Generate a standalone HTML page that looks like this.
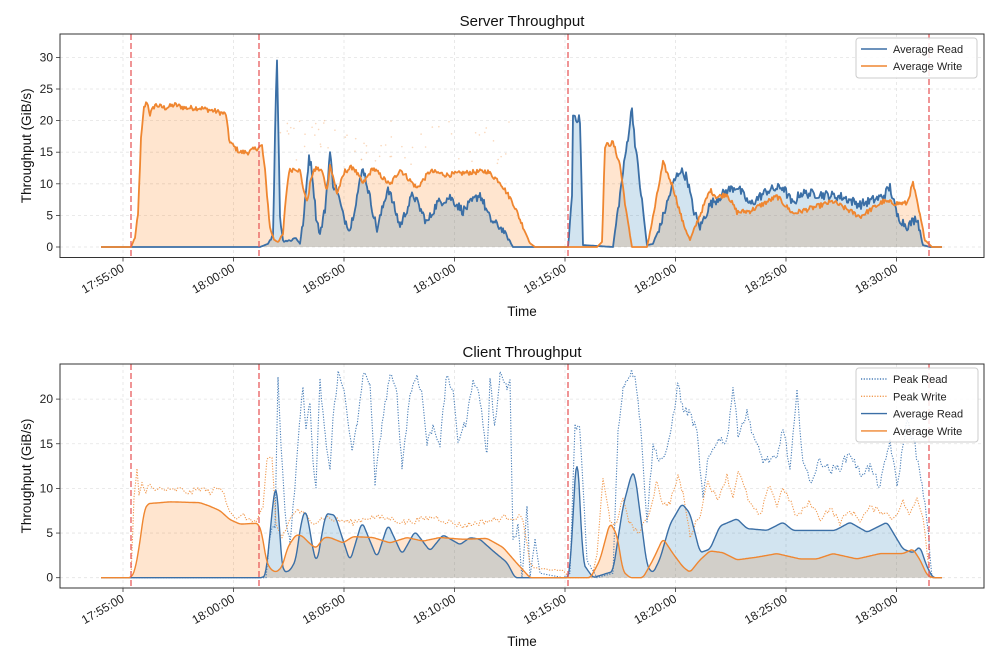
<!DOCTYPE html>
<html><head><meta charset="utf-8"><style>
body{margin:0;background:#fff;}
svg{display:block;font-family:"Liberation Sans","DejaVu Sans",sans-serif;}
</style></head><body>
<svg id="s" width="1000" height="657" viewBox="0 0 1000 657" xmlns="http://www.w3.org/2000/svg">
<rect width="1000" height="657" fill="#fff"/>
<g id="g"></g>
</svg>
<script>
const NS="http://www.w3.org/2000/svg";
const g=document.getElementById('g');
function el(t,a,txt){const e=document.createElementNS(NS,t);for(const k in a)e.setAttribute(k,a[k]);if(txt!==undefined)e.textContent=txt;g.appendChild(e);return e;}
let seed=12345;function rnd(){seed=(seed*1103515245+12345)%2147483648;return seed/2147483648;}
function interp(pts,step,noise){const out=[];for(let i=0;i<pts.length-1;i++){const [x0,v0]=pts[i],[x1,v1]=pts[i+1];for(let x=x0;x<x1;x+=step){const t=(x-x0)/(x1-x0);let v=v0+(v1-v0)*t;if(noise&&v>0.8)v+=(rnd()-0.5)*noise*Math.min(1,v/4);out.push([x,Math.max(0,v)]);}}out.push(pts[pts.length-1]);return out;}
function smooth(pts){const d=interp(pts,1,0);const o=[];for(let i=0;i<d.length;i++){let s=0,n=0;for(let j=-2;j<=2;j++){if(d[i+j]){s+=d[i+j][1];n++;}}o.push([d[i][0],s/n]);}return o;}
function P(arr,yf){return arr.map(p=>p[0].toFixed(1)+','+yf(p[1]).toFixed(1)).join(' ');}
function panel(top,bot,vmax,ticks,yf,title,titleY,timeY){
 const L=60,R=984;
 for(const v of ticks){el('line',{x1:L,x2:R,y1:yf(v),y2:yf(v),stroke:'#e3e3e3','stroke-width':0.8,'stroke-dasharray':'3,3'});}
 const xt=[123,233.5,344,454.5,565,675.5,786,896.5],lab=['17:55:00','18:00:00','18:05:00','18:10:00','18:15:00','18:20:00','18:25:00','18:30:00'];
 xt.forEach((x,i)=>{el('line',{x1:x,x2:x,y1:top,y2:bot,stroke:'#e3e3e3','stroke-width':0.8,'stroke-dasharray':'3,3'});
  el('line',{x1:x,x2:x,y1:bot,y2:bot+4,stroke:'#333','stroke-width':0.8});
  el('text',{x:x+2,y:bot+13,'font-size':12,'text-anchor':'end',fill:'#222',transform:`rotate(-30 ${x+2} ${bot+13})`},lab[i]);});
 for(const v of ticks){const y=yf(v);el('line',{x1:L-4,x2:L,y1:y,y2:y,stroke:'#333','stroke-width':0.8});el('text',{x:L-7,y:y+4,'font-size':12,'text-anchor':'end',fill:'#222'},String(v));}
 el('text',{x:522,y:titleY,'font-size':15,'text-anchor':'middle',fill:'#111'},title);
 el('text',{x:522,y:timeY,'font-size':13.5,'text-anchor':'middle',fill:'#111'},'Time');
 const cy=(top+bot)/2;el('text',{x:31,y:cy,'font-size':13.5,'text-anchor':'middle',fill:'#111',transform:`rotate(-90 31 ${cy})`},'Throughput (GiB/s)');
}
function fill(arr,yf,col,op){const base=yf(0);el('polygon',{points:arr[0][0]+','+base+' '+P(arr,yf)+' '+arr[arr.length-1][0]+','+base,fill:col,'fill-opacity':op,stroke:'none'});}
function line(arr,yf,col,w,dash){const a={points:P(arr,yf),fill:'none',stroke:col,'stroke-width':w,'stroke-linejoin':'round'};if(dash)a['stroke-dasharray']=dash;el('polyline',a);}
function vlines(top,bot){for(const x of [131,259,568,929])el('line',{x1:x,x2:x,y1:top,y2:bot,stroke:'#e8595b','stroke-width':1.5,'stroke-dasharray':'6,3','stroke-opacity':0.85});}
const BLUE='#3b6fa6',ORANGE='#ef8630';
const yT=v=>247-6.32*v;
panel(34,257.5,30,[0,5,10,15,20,25,30],yT,'Server Throughput',26,316);
const wT=[[101,0],[131,0],[135,1.5],[138,5],[141,17],[144,22],[147,23],[150,21],[155,22.5],[165,22],[175,22.5],[185,22],[200,22],[215,21.5],[226,21],[229,17],[233,16],[240,15],[248,15],[255,15.5],[262,16],[265,12],[270,3],[274,1.2],[278,0.8],[283,2],[286,8],[289,12],[295,12.5],[300,12],[305,8],[308,7.5],[311,11],[316,12.5],[322,12],[327,9],[330,13],[337,8.5],[345,12],[353,12.7],[363,10],[373,12.5],[390,9.8],[400,12.3],[417,9.3],[430,12],[447,11.4],[463,11.7],[487,12],[500,10.3],[513,7],[530,0.6],[535,0],[597,0],[602,0.8],[605,16],[613,16.5],[620,13],[627,4.7],[632,0],[647,0],[653,4.7],[663,13.3],[673,9.5],[683,3.8],[690,1.1],[698,4.3],[710,9],[717,7.9],[727,8.4],[737,5.5],[750,5.7],[777,8],[793,5.3],[817,6.4],[833,7.2],[860,4.8],[883,7.2],[897,6.9],[907,6.9],[913,10.1],[918,6.4],[925,1.1],[932,0],[942,0]];
const rT=[[101,0],[260,0],[268,0.5],[273,2],[276,25],[277,29],[278,22],[280,5],[283,1],[290,1],[296,1.5],[300,0.5],[304,5],[309,14.5],[312,12],[316,5],[320,2],[325,6],[330,15],[333,10],[337,9],[343,5],[350,2.7],[363,12.7],[377,2.7],[388,9.5],[400,3.3],[413,8.4],[427,3.8],[437,6.9],[450,7.9],[463,5.7],[480,8.4],[490,4.4],[503,2.7],[513,0],[568,0],[572,8],[573,21],[580,20],[583,0.3],[613,0],[623,11.8],[632,22],[635,16.6],[647,0.3],[653,0.5],[660,3.2],[673,10],[680,12.2],[687,11],[693,6.1],[700,3.1],[710,6.7],[727,8.9],[737,9.6],[750,6.7],[767,8.9],[783,9.5],[793,6.7],[800,8.5],[817,8.4],[843,7.9],[860,6.7],[883,8],[890,9.5],[897,5],[907,3.2],[917,4.7],[923,0.3],[930,0],[942,0]];
const wTd=interp(wT,1,0.8),rTd=interp(rT,1,1.5);
fill(wTd,yT,'#ff7f0e',0.2);fill(rTd,yT,'#1f77b4',0.2);
for(let i=0;i<60;i++){const x=280+rnd()*230,v=13+rnd()*7;el('circle',{cx:x,cy:yT(v),r:0.8,fill:'#f5b27a','fill-opacity':0.5});}
line(rTd,yT,BLUE,1.8);line(wTd,yT,ORANGE,1.8);
vlines(34,257.5);
el('rect',{x:60,y:34,width:924,height:223.5,fill:'none',stroke:'#333','stroke-width':1});
el('rect',{x:856,y:38,width:121,height:40,rx:3,fill:'#fff','fill-opacity':0.85,stroke:'#ccc','stroke-width':1});
el('line',{x1:861,x2:887,y1:49,y2:49,stroke:BLUE,'stroke-width':1.5});el('text',{x:893,y:53,'font-size':11,fill:'#222'},'Average Read');
el('line',{x1:861,x2:887,y1:66,y2:66,stroke:ORANGE,'stroke-width':1.5});el('text',{x:893,y:70,'font-size':11,fill:'#222'},'Average Write');
const yB=v=>577.7-8.93*v;
panel(364,588,23,[0,5,10,15,20],yB,'Client Throughput',357,646);
const wB=[[101,0],[131,0],[135,0.8],[140,4],[144,7.5],[148,8.3],[160,8.4],[170,8.5],[200,8.4],[210,8.0],[220,7.5],[230,6.5],[240,6],[258,6.1],[262,5],[266,2],[270,1],[276,0.6],[282,1.2],[288,3.5],[296,4.8],[302,4.7],[310,3.8],[316,3.3],[324,4.5],[330,4.5],[343,3.9],[353,4.6],[373,4.5],[390,3.9],[407,4.5],[423,4.1],[440,4.5],[463,4.3],[487,4.4],[503,3.4],[517,1.6],[530,0],[590,0],[593,0.5],[600,2],[610,6.2],[617,4.8],[623,0.7],[630,0],[643,0],[653,2],[663,4.4],[673,2.7],[683,1.2],[690,0.6],[700,2],[710,3.0],[723,2.8],[737,2.0],[757,2.3],[777,2.7],[800,2.1],[817,2.1],[833,2.7],[857,2.1],[880,2.7],[903,2.7],[913,3.2],[920,2],[927,0.3],[933,0],[942,0]];
const rB=[[101,0],[262,0],[266,0.3],[270,5],[274,9.5],[276,10.5],[278,9],[281,2],[284,0.6],[290,0.8],[296,2],[300,5.5],[305,7.8],[309,6],[313,3],[317,1.6],[322,5],[326,7.2],[335,7],[350,1.8],[362,6.3],[377,2.2],[388,6],[402,2.6],[415,5.2],[430,3.0],[443,4.8],[460,3.7],[470,4.5],[480,4.3],[493,3.0],[507,1.7],[515,0],[568,0],[570,0.7],[577,15],[583,1.6],[593,0],[613,0.7],[623,8],[632,11.8],[635,11.6],[647,1.3],[653,0.5],[660,2.1],[670,6],[682,8.3],[690,7.2],[700,2.8],[710,3.2],[720,5.8],[737,6.6],[747,5.5],[767,5.3],[783,6.2],[793,5.3],[817,5.3],[835,5.3],[850,6.2],[867,5.1],[887,6.2],[903,3.2],[913,2.8],[920,3.5],[927,1.2],[933,0],[942,0]];
const pwB=[[101,0],[131,0],[134,9],[137,12],[139,9],[142,10.5],[146,9.5],[150,10.8],[155,9.6],[160,10],[170,9.7],[180,9.9],[190,9.5],[200,10],[210,9.6],[218,10],[224,9.6],[228,8],[232,7.2],[238,6.5],[244,7],[250,6.3],[258,6.6],[263,8],[267,13],[272,13.3],[276,6],[282,4.5],[290,6.5],[296,7.6],[305,7],[315,6.2],[325,6.8],[333,6.5],[353,6.2],[370,6.8],[390,6.6],[405,6.2],[420,6.5],[435,6.8],[447,6.3],[463,5.8],[480,6.2],[495,6.5],[507,6.8],[523,6.7],[530,1.5],[537,1.0],[563,0.8],[570,0],[592,0],[597,2.7],[603,11],[610,6.5],[617,5.9],[623,9],[630,6],[640,5],[650,7.5],[657,11],[663,8],[670,8.5],[678,11.2],[683,9.5],[690,4.7],[700,7.1],[708,10.9],[717,8.7],[727,11.4],[733,9],[738,12],[750,8.3],[760,6.8],[770,10.5],[777,8],[783,10.2],[797,6.8],[810,8.5],[820,6.6],[830,7.8],[840,6.2],[850,7.5],[860,6.5],[870,7.8],[883,7.4],[893,6.6],[903,8.5],[910,7],[917,8.9],[923,7],[930,0],[942,0]];
const prB=[[101,0],[266,0],[270,5],[275,6],[278,22.5],[281,15],[285,7],[290,4],[295,10],[300,18],[303,21],[306,17],[310,19.5],[313,13],[316,10],[320,22],[325,16],[330,12],[333,17.7],[338,22.9],[345,20.6],[352,14],[357,17],[363,22.7],[370,22],[375,10.5],[382,17.3],[390,22.7],[397,20.6],[402,12.4],[410,20.6],[417,22.7],[422,20.6],[427,15],[433,17],[440,15],[447,22.9],[453,20.6],[458,15.4],[467,17.7],[473,22.5],[480,20],[487,13.6],[490,22],[495,17],[500,22.9],[507,21.4],[510,22],[513,3.9],[518,5.7],[522,0],[527,7.9],[530,0],[535,4.2],[540,0.5],[563,0],[570,0.5],[575,17],[580,16.5],[587,2],[597,0],[613,0.5],[618,16.2],[623,21.4],[630,22.9],[635,22.9],[640,17.7],[647,6.5],[653,14.7],[660,13.2],[667,14],[673,18],[678,21.8],[683,18.8],[690,18.4],[697,16.2],[703,8.7],[708,13.2],[717,15.4],[727,15.4],[733,21.4],[738,16.2],[747,18.4],[757,14.7],[763,13.2],[777,13.2],[783,17],[790,12],[797,20.6],[803,13.2],[810,10.6],[820,13.2],[830,12],[840,12.4],[850,14],[860,11.6],[870,12.4],[880,10.2],[890,15.4],[897,10.2],[907,17.7],[915,14.7],[922,10.2],[927,6.5],[932,0],[942,0]];
const wBs=smooth(wB),rBs=smooth(rB);
fill(wBs,yB,'#ff7f0e',0.2);fill(rBs,yB,'#1f77b4',0.2);
const pwd=interp(pwB,2,0.7),prd=interp(prB,1.5,1.0);
line(prd,yB,'#4a7fb8',1.1,'1.2,1.5');line(pwd,yB,'#f19a50',1.1,'1.2,1.5');
line(rBs,yB,BLUE,1.4);line(wBs,yB,ORANGE,1.4);
vlines(364,588);
el('rect',{x:60,y:364,width:924,height:224,fill:'none',stroke:'#333','stroke-width':1});
el('rect',{x:856,y:368,width:122,height:74,rx:3,fill:'#fff','fill-opacity':0.85,stroke:'#ccc','stroke-width':1});
const leg=[['Peak Read','#4a7fb8','1.2,1.5'],['Peak Write','#f19a50','1.2,1.5'],['Average Read',BLUE,null],['Average Write',ORANGE,null]];
leg.forEach((l,i)=>{const y=379+i*17.3;const a={x1:861,x2:887,y1:y,y2:y,stroke:l[1],'stroke-width':1.4};if(l[2])a['stroke-dasharray']=l[2];el('line',a);el('text',{x:893,y:y+4,'font-size':11,fill:'#222'},l[0]);});
</script>
</body></html>
